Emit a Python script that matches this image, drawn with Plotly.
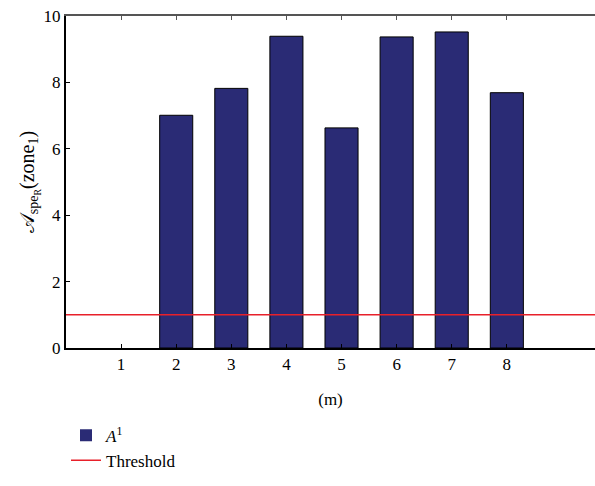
import plotly.graph_objects as go

categories = [1, 2, 3, 4, 5, 6, 7, 8]
a1_values = [0, 7.01, 7.82, 9.39, 6.63, 9.37, 9.52, 7.69]
threshold_x = [0, 9.6]
threshold_y = [1.0, 1.0]
x_ticks = [1, 2, 3, 4, 5, 6, 7, 8]
y_ticks = [0, 2, 4, 6, 8, 10]

FONT = "Liberation Serif"

fig = go.Figure()
fig.add_trace(go.Bar(
    x=categories, y=a1_values, width=0.6,
    marker=dict(color="#2A2B75",
                line=dict(color="black", width=[0 if v == 0 else 1 for v in a1_values])),
    name="<i>A</i><sup>1</sup>",
))
fig.add_trace(go.Scatter(
    x=threshold_x, y=threshold_y, mode="lines",
    line=dict(color="#E8202A", width=1.5),
    name="Threshold",
))
fig.add_trace(go.Scatter(x=[0], y=[0], xaxis="x2", mode="markers",
                         marker=dict(opacity=0), showlegend=False, hoverinfo="skip"))

fig.update_layout(
    width=595, height=486,
    margin=dict(l=66, r=0, t=16, b=138),
    paper_bgcolor="white", plot_bgcolor="white",
    font=dict(family=FONT, size=17, color="black"),
    showlegend=True,
    legend=dict(x=0.0, y=-0.21, xanchor="left", yanchor="top",
                font=dict(family=FONT, size=17), bgcolor="rgba(0,0,0,0)",
                tracegroupgap=0),
    xaxis=dict(range=[0, 9.6], tickvals=x_ticks, ticks="inside", ticklen=4,
               tickcolor="black", showline=True, linecolor="black", linewidth=2,
               showgrid=False, zeroline=False,
               title=dict(text="(m)", font=dict(family=FONT, size=17), standoff=20)),
    xaxis2=dict(range=[0, 9.6], overlaying="x", side="top", tickvals=x_ticks,
                ticks="inside", ticklen=4, tickcolor="#555", showticklabels=False,
                showline=True, linecolor="#555", linewidth=1.5, showgrid=False,
                zeroline=False),
    yaxis=dict(range=[0, 10], tickvals=y_ticks, ticks="inside", ticklen=4,
               tickcolor="black", showline=True, linecolor="black", linewidth=2,
               showgrid=False, zeroline=False,
               title=dict(text="𝒜<sub>spe<sub>R</sub></sub>(zone<sub>1</sub>)",
                          font=dict(family=FONT, size=20), standoff=4)),
)

fig.write_html("out.html")
